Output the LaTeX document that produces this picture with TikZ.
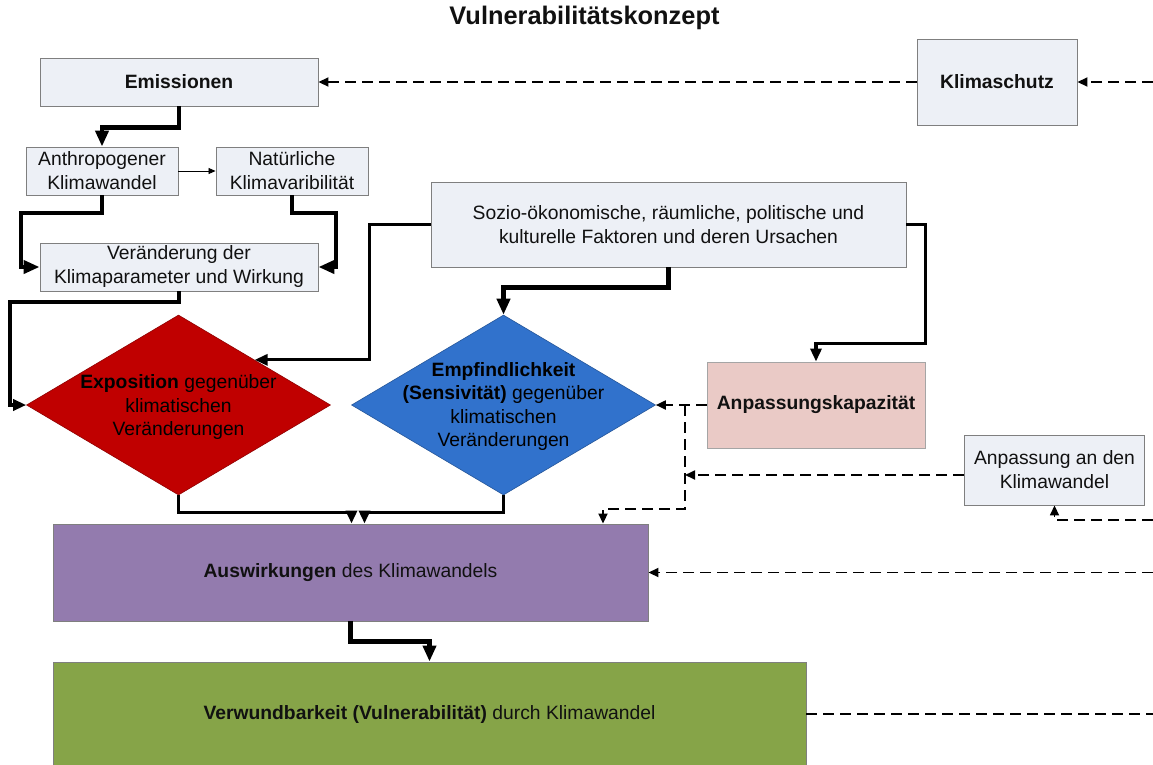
\documentclass[tikz,border=0pt]{standalone}
\usepackage{fontspec}
\setmainfont{Liberation Sans}
\usetikzlibrary{arrows.meta,shapes.geometric,calc}
\definecolor{boxfill}{HTML}{EDF0F6}
\definecolor{boxline}{HTML}{7F7F7F}
\definecolor{expored}{HTML}{C00000}
\definecolor{empfblue}{HTML}{3172CC}
\definecolor{kappink}{HTML}{EACAC6}
\definecolor{auswpurple}{HTML}{937BAE}
\definecolor{verwgreen}{HTML}{86A448}
\definecolor{ink}{HTML}{111111}
\begin{document}
\begin{tikzpicture}[x=1pt,y=-1pt,
  every node/.style={font=\fontsize{19.3}{24}\selectfont, text=ink},
  box/.style={rectangle, draw=boxline, line width=0.9pt, fill=boxfill, inner sep=0pt, align=center},
  dia/.style={diamond, inner sep=0pt, minimum width=304pt, minimum height=180pt, line width=0.6pt},
  diatext/.style={align=center, font=\fontsize{19.3}{23.3}\selectfont, text=black},
  thickarrow/.style={line width=4.2pt, -{Triangle[length=16pt,width=13pt]}},
  medarrow/.style={line width=3.2pt, -{Triangle[length=13pt,width=11pt]}},
  thinarrow/.style={line width=0.8pt, -{Triangle[length=7pt,width=6pt]}},
  dashline/.style={line width=1.8pt, dash pattern=on 11pt off 6pt},
  dasharrow/.style={dashline, -{Triangle[length=10pt,width=9pt]}}
]
\useasboundingbox (0,0) rectangle (1153,764);
\fill[white] (0,0) rectangle (1153,764);

\node[font=\fontsize{25.4}{30}\selectfont\bfseries] (title) at (584.5,18) {Vulnerabilitätskonzept};

\node[box, minimum width=278pt, minimum height=48pt] (emis) at (179,82) {\bfseries Emissionen};
\node[box, minimum width=160pt, minimum height=86pt] (klima) at (997,82) {\bfseries Klimaschutz};
\node[box, minimum width=152pt, minimum height=48pt] (anth) at (102,171) {Anthropogener\\Klimawandel};
\node[box, minimum width=152pt, minimum height=48pt] (nat) at (292,171) {Natürliche\\Klimavaribilität};
\node[box, minimum width=278pt, minimum height=48pt] (ver) at (179,267) {Veränderung der\\Klimaparameter und Wirkung};
\node[box, minimum width=475pt, minimum height=85pt] (sozio) at (668.5,224.5) {Sozio-ökonomische, räumliche, politische und\\kulturelle Faktoren und deren Ursachen};

\node[dia, draw=expored!75!black, fill=expored] (expo) at (178.5,405) {};
\node[diatext] (expotext) at (178.5,407) {\textbf{Exposition} gegenüber\\klimatischen\\Veränderungen};
\node[dia, draw=empfblue!75!black, fill=empfblue] (empf) at (503.5,405) {};
\node[diatext] (empftext) at (503.5,406.5) {\textbf{Empfindlichkeit}\\\textbf{(Sensivität)} gegenüber\\klimatischen\\Veränderungen};

\node[box, draw=boxline!70, fill=kappink, minimum width=218pt, minimum height=86pt] (kap) at (816,405) {\bfseries Anpassungskapazität};
\node[box, minimum width=180pt, minimum height=70pt] (anp) at (1054.5,470) {Anpassung an den\\Klimawandel};
\node[box, fill=auswpurple, minimum width=595pt, minimum height=97pt] (ausw) at (350.5,572.5) {\textbf{Auswirkungen} des Klimawandels};
\node[box, fill=verwgreen, minimum width=753pt, minimum height=104pt] (verw) at (429.5,714) {\textbf{Verwundbarkeit (Vulnerabilität)} durch Klimawandel};

\coordinate (rKs) at (1153,82);
\coordinate (rAnp) at (1153,520);
\coordinate (rAusw) at (1153,572.5);
\coordinate (rVerw) at (1153,714);
\coordinate (jk) at (685,405);
\coordinate (jb) at (603,509);

\draw[dasharrow] (rKs) -- (klima.east);
\draw[dasharrow] (klima.west) -- (emis.east);
\draw[thickarrow] (emis.south) -- ++(0,21) -| (anth.north);
\draw[thinarrow] (anth.east) -- (nat.west);
\draw[thickarrow] (anth.south) |- (21,213) |- (ver.west);
\draw[thickarrow] (nat.south) |- (336,213) |- (ver.east);
\draw[medarrow] (ver.south) |- (10,302) |- (expo.west);
\draw[medarrow] (sozio.west) -- ++(-61,0) |- (expo.north east);
\draw[thickarrow] (sozio.south) -- ++(0,20) -| (empf.north);
\draw[medarrow] (sozio.east) -- ++(19,0) -- ++(0,119) -| (kap.north);
\draw[medarrow] (expo.south) |- ($(ausw.north)+(1,-11)$) -- ($(ausw.north)+(1,0)$);
\draw[medarrow] (empf.south) |- ($(ausw.north)+(14,-11)$) -- ($(ausw.north)+(14,0)$);
\draw[thickarrow] (ausw.south) -- ++(0,20) -| (verw.north);
\draw[dasharrow] (kap.west) -- (empf.east);
\draw[dasharrow] (jk) |- (jb) -- (jb |- ausw.north);
\draw[dasharrow] ([yshift=-5pt]anp.west) -- ([yshift=-5pt]anp.west -| jk);
\draw[dasharrow] (rAnp) -| (anp.south);
\draw[dasharrow] (rAusw) -- (ausw.east);
\draw[dashline] (verw.east) -- (rVerw);
\end{tikzpicture}
\end{document}
